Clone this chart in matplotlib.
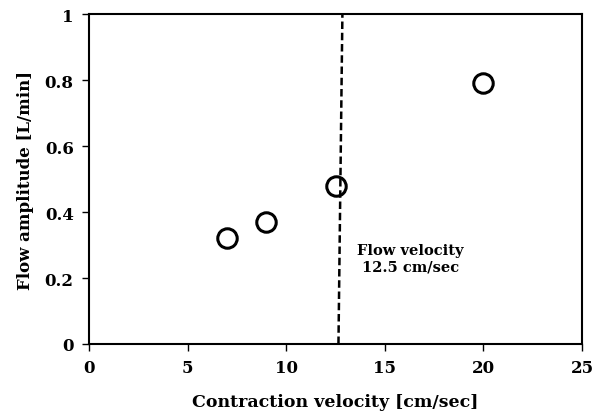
import matplotlib
matplotlib.use('Agg')
import matplotlib.pyplot as plt

plt.rcParams.update({
    'font.family': 'DejaVu Serif', 'font.weight': 'bold', 'font.size': 10,
})

# data
contraction_velocity = [7, 9, 12.5, 20]
flow_amplitude = [0.32, 0.37, 0.48, 0.79]
threshold_x = [12.65, 12.85]
threshold_y = [0, 1]
x_ticks = [0, 5, 10, 15, 20, 25]
y_ticks = [0, 0.2, 0.4, 0.6, 0.8, 1]

fig = plt.figure(figsize=(6.07, 4.14), dpi=100)
ax = fig.add_axes([89 / 607, 69 / 414, 493 / 607, 330 / 414])

ax.plot(threshold_x, threshold_y, '--', color='black', lw=1.8, dashes=(3, 1.5))
ax.plot(contraction_velocity, flow_amplitude, 'o', ms=14, mfc='none',
        mec='black', mew=2.2, clip_on=False, zorder=5)

ax.text(16.3, 0.26, "Flow velocity\n12.5 cm/sec", ha='center', va='center',
        fontsize=10.5, fontweight='bold', linespacing=1.3)

ax.set_xlim(0, 25)
ax.set_ylim(0, 1)
ax.set_xticks(x_ticks)
ax.set_yticks(y_ticks)
ax.set_yticklabels(['0', '0.2', '0.4', '0.6', '0.8', '1'])
ax.tick_params(direction='out', length=5, width=1, labelsize=12, pad=6)
for s in ax.spines.values():
    s.set_linewidth(1.5)

ax.set_xlabel("Contraction velocity [cm/sec]", fontsize=12.5, fontweight='bold',
              labelpad=12)
ax.set_ylabel("Flow amplitude [L/min]", fontsize=12, fontweight='bold',
              labelpad=8)

fig.savefig("out.png", dpi=100)
